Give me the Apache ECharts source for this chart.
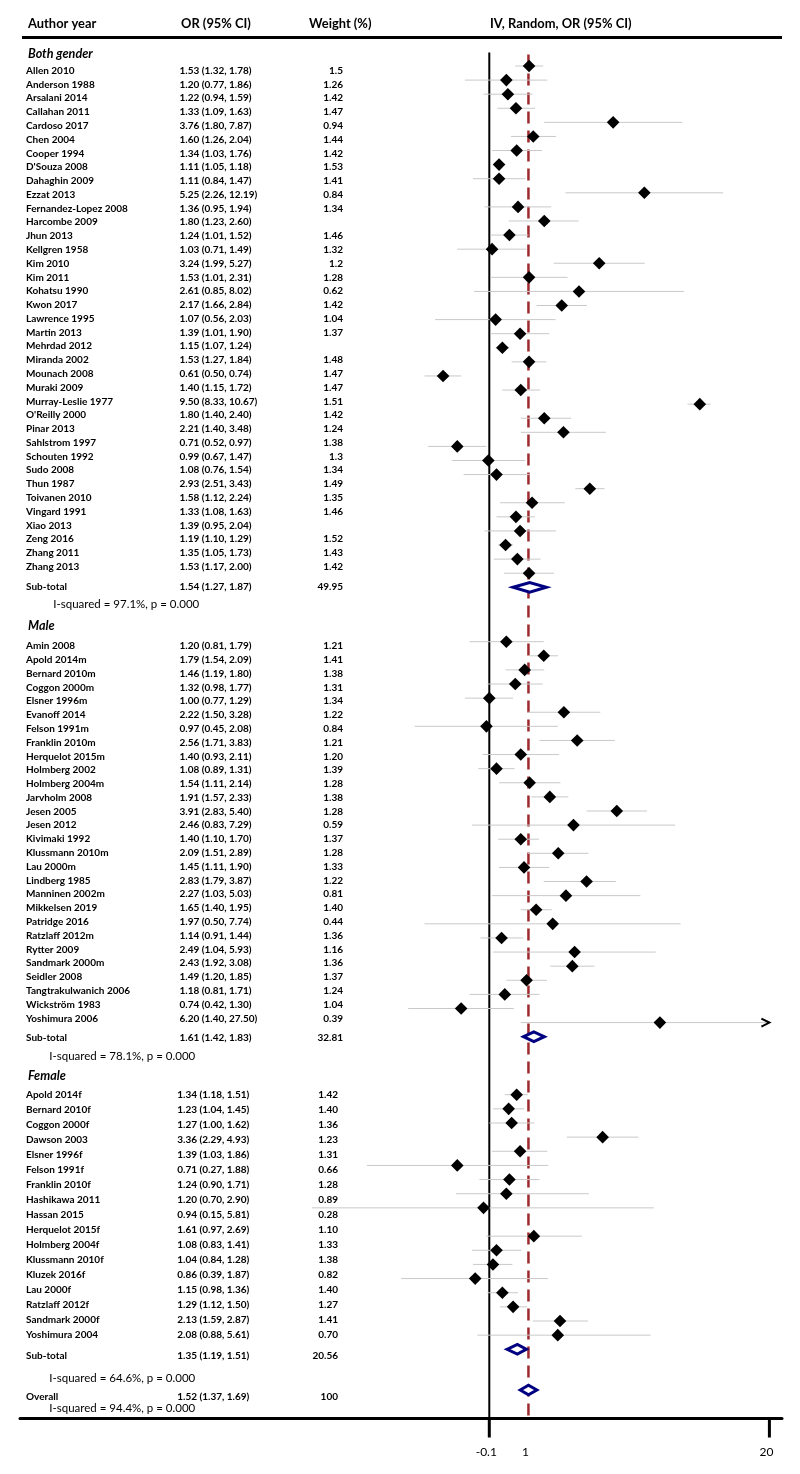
<!DOCTYPE html>
<html><head><meta charset="utf-8">
<script src="https://cdn.jsdelivr.net/npm/echarts@6/dist/echarts.min.js"></script>
<style>html,body{margin:0;padding:0;background:#fff}#c{width:800px;height:1474px}</style>
</head><body><div id="c"></div>
<script>
// ================= DATA =================
const headerLabels = ['Author year', 'OR (95% CI)', 'Weight (%)', 'IV, Random, OR (95% CI)'];
const sectionTitles = ['Both gender', 'Male', 'Female'];

const bothNames = ['Allen 2010','Anderson 1988','Arsalani 2014','Callahan 2011','Cardoso 2017','Chen 2004','Cooper 1994',"D'Souza 2008",'Dahaghin 2009','Ezzat 2013','Fernandez-Lopez 2008','Harcombe 2009','Jhun 2013','Kellgren 1958','Kim 2010','Kim 2011','Kohatsu 1990','Kwon 2017','Lawrence 1995','Martin 2013','Mehrdad 2012','Miranda 2002','Mounach 2008','Muraki 2009','Murray-Leslie 1977',"O'Reilly 2000",'Pinar 2013','Sahlstrom 1997','Schouten 1992','Sudo 2008','Thun 1987','Toivanen 2010','Vingard 1991','Xiao 2013','Zeng 2016','Zhang 2011','Zhang 2013'];
const bothOR = [1.53,1.20,1.22,1.33,3.76,1.60,1.34,1.11,1.11,5.25,1.36,1.80,1.24,1.03,3.24,1.53,2.61,2.17,1.07,1.39,1.15,1.53,0.61,1.40,9.50,1.80,2.21,0.71,0.99,1.08,2.93,1.58,1.33,1.39,1.19,1.35,1.53];
const bothLo = [1.32,0.77,0.94,1.09,1.80,1.26,1.03,1.05,0.84,2.26,0.95,1.23,1.01,0.71,1.99,1.01,0.85,1.66,0.56,1.01,1.07,1.27,0.50,1.15,8.33,1.40,1.40,0.52,0.67,0.76,2.51,1.12,1.08,0.95,1.10,1.05,1.17];
const bothHi = [1.78,1.86,1.59,1.63,7.87,2.04,1.76,1.18,1.47,12.19,1.94,2.60,1.52,1.49,5.27,2.31,8.02,2.84,2.03,1.90,1.24,1.84,0.74,1.72,10.67,2.40,3.48,0.97,1.47,1.54,3.43,2.24,1.63,2.04,1.29,1.73,2.00];
const bothWeight = ['1.5','1.26','1.42','1.47','0.94','1.44','1.42','1.53','1.41','0.84','1.34','','1.46','1.32','1.2','1.28','0.62','1.42','1.04','1.37','','1.48','1.47','1.47','1.51','1.42','1.24','1.38','1.3','1.34','1.49','1.35','1.46','','1.52','1.43','1.42'];

const maleNames = ['Amin 2008','Apold 2014m','Bernard 2010m','Coggon 2000m','Elsner 1996m','Evanoff 2014','Felson 1991m','Franklin 2010m','Herquelot 2015m','Holmberg 2002','Holmberg 2004m','Jarvholm 2008','Jesen 2005','Jesen 2012','Kivimaki 1992','Klussmann 2010m','Lau 2000m','Lindberg 1985','Manninen 2002m','Mikkelsen 2019','Patridge 2016','Ratzlaff 2012m','Rytter 2009','Sandmark 2000m','Seidler 2008','Tangtrakulwanich 2006','Wickström 1983','Yoshimura 2006'];
const maleOR = [1.20,1.79,1.46,1.32,1.00,2.22,0.97,2.56,1.40,1.08,1.54,1.91,3.91,2.46,1.40,2.09,1.45,2.83,2.27,1.65,1.97,1.14,2.49,2.43,1.49,1.18,0.74,6.20];
const maleLo = [0.81,1.54,1.19,0.98,0.77,1.50,0.45,1.71,0.93,0.89,1.11,1.57,2.83,0.83,1.10,1.51,1.11,1.79,1.03,1.40,0.50,0.91,1.04,1.92,1.20,0.81,0.42,1.40];
const maleHi = [1.79,2.09,1.80,1.77,1.29,3.28,2.08,3.83,2.11,1.31,2.14,2.33,5.40,7.29,1.70,2.89,1.90,3.87,5.03,1.95,7.74,1.44,5.93,3.08,1.85,1.71,1.30,27.50];
const maleWeight = ['1.21','1.41','1.38','1.31','1.34','1.22','0.84','1.21','1.20','1.39','1.28','1.38','1.28','0.59','1.37','1.28','1.33','1.22','0.81','1.40','0.44','1.36','1.16','1.36','1.37','1.24','1.04','0.39'];

const femaleNames = ['Apold 2014f','Bernard 2010f','Coggon 2000f','Dawson 2003','Elsner 1996f','Felson 1991f','Franklin 2010f','Hashikawa 2011','Hassan 2015','Herquelot 2015f','Holmberg 2004f','Klussmann 2010f','Kluzek 2016f','Lau 2000f','Ratzlaff 2012f','Sandmark 2000f','Yoshimura 2004'];
const femaleOR = [1.34,1.23,1.27,3.36,1.39,0.71,1.24,1.20,0.94,1.61,1.08,1.04,0.86,1.15,1.29,2.13,2.08];
const femaleLo = [1.18,1.04,1.00,2.29,1.03,0.27,0.90,0.70,0.15,0.97,0.83,0.84,0.39,0.98,1.12,1.59,0.88];
const femaleHi = [1.51,1.45,1.62,4.93,1.86,1.88,1.71,2.90,5.81,2.69,1.41,1.28,1.87,1.36,1.50,2.87,5.61];
const femaleWeight = ['1.42','1.40','1.36','1.23','1.31','0.66','1.28','0.89','0.28','1.10','1.33','1.38','0.82','1.40','1.27','1.41','0.70'];

const subLabel = 'Sub-total';
const subOR = [1.54, 1.61, 1.35];
const subLo = [1.27, 1.42, 1.19];
const subHi = [1.87, 1.83, 1.51];
const subWeight = ['49.95', '32.81', '20.56'];
const subISquared = ['97.1%', '78.1%', '64.6%'];
const subP = ['0.000', '0.000', '0.000'];

const overallLabel = 'Overall';
const overallOR = 1.52, overallLo = 1.37, overallHi = 1.69;
const overallWeight = '100';
const overallISquared = '94.4%', overallP = '0.000';

const nullValue = 1;
const tickValues = [1, 1.52, 20];
const tickLabels = ['-0.1', '1', '20'];
const tickMarks = [true, false, true];

// ================= LAYOUT =================
const FONT = 'Lato, "Liberation Sans", sans-serif';
const f = (w, s, st) => `${st || 'normal'} ${w} ${s}px ${FONT}`;
// font sizes fitted so that sample strings get the widths seen in the reference
const mctx = document.createElement('canvas').getContext('2d');
function fit(samples, weight, style) {
  let acc = 0;
  samples.forEach(([s, target]) => { mctx.font = f(weight, 100, style); acc += 100 * target / mctx.measureText(s).width; });
  return Math.round(acc / samples.length * 10) / 10;
}
const SZ_STUDY = fit([['Allen 2010', 45], ['1.53 (1.32, 1.78)', 70], ['5.25 (2.26, 12.19)', 75], ['Apold 2014f', 63]], 'bold');
const SZ_HEAD = fit([['Author year', 70], ['OR (95% CI)', 68], ['Weight (%)', 63], ['IV, Random, OR (95% CI)', 142]], 'bold');
const SZ_TITLE = fit([['Both gender', 64], ['Male', 27]], 'bold', 'italic');
const SZ_ISQ = fit([['I-squared = 97.1%, p = 0.000', 146]], 'normal');
const SZ_TICK = fit([['20', 14], ['-0.1', 21]], 'normal');

const PX0 = 489.3, K = 93.5, PLOT_L = 20, PLOT_R = 782;
const X_MIN = Math.exp((PLOT_L - PX0) / K), X_MAX = Math.exp((PLOT_R - PX0) / K);
const CLIP_MAX = tickValues[tickValues.length - 1];
const AXIS_Y = 1418.5, LINES_TOP = 52.5;

// blank: index of a study before which the marker column leaves an empty row (-1: none)
const sections = [
  { names: bothNames, or: bothOR, lo: bothLo, hi: bothHi, w: bothWeight,
    mFirst: 66, mLast: 587.3, tFirst: 70.7, tLast: 566.7,
    orX: 179.5, wX: 343, subDy: -0.6, isqDy: 17, isqX: 53.3, titleDy: -16.7, blank: -1 },
  { names: maleNames, or: maleOR, lo: maleLo, hi: maleHi, w: maleWeight,
    mFirst: 641.7, mLast: 1036.7, tFirst: 646, tLast: 1018.3,
    orX: 179.5, wX: 343, subDy: 1, isqDy: 20, isqX: 49.3, titleDy: -20, blank: -1 },
  { names: femaleNames, or: femaleOR, lo: femaleLo, hi: femaleHi, w: femaleWeight,
    mFirst: 1094.7, mLast: 1349.3, tFirst: 1095, tLast: 1334.7,
    orX: 177.3, wX: 338, subDy: 6.4, isqDy: 29.4, isqX: 49.3, titleDy: -19, blank: 9 }
];
const OVERALL = { y: 1390, dy: 6.7, isqDy: 18, isqX: 49.3, orX: 177.3, wX: 338 };
const NAME_X = 26, TITLE_X = 28;

const ciText = (o, l, h) => `${o.toFixed(2)} (${l.toFixed(2)}, ${h.toFixed(2)})`;
const txt = (x, y, s, font, align) => ({ type: 'text', x: x, y: y,
  style: { text: s, font: font, fill: '#000', align: align || 'left', verticalAlign: 'middle' } });

const STUDY_FONT = f('bold', SZ_STUDY);
const ISQ_FONT = f('normal', SZ_ISQ);
const grids = [], xAxes = [], yAxes = [], series = [];

function addGrid(top, height, yType, cats) {
  const gi = grids.length;
  grids.push({ left: PLOT_L, width: PLOT_R - PLOT_L, top: top, height: height });
  xAxes.push({ type: 'log', logBase: Math.E, gridIndex: gi, min: X_MIN, max: X_MAX, show: false,
    axisLabel: { show: false }, axisTick: { show: false }, splitLine: { show: false }, minorTick: { show: false } });
  if (yType === 'value') yAxes.push({ type: 'value', gridIndex: gi, min: 0, max: 1, show: false });
  else yAxes.push({ type: 'category', gridIndex: gi, data: cats, inverse: true, show: false });
  return gi;
}

// --- grid 0: reference lines + bottom axis ---
const g0 = addGrid(LINES_TOP, AXIS_Y - LINES_TOP, 'value');
xAxes[g0].show = true;
xAxes[g0].axisLine = { show: true, onZero: false, lineStyle: { color: '#000', width: 3 } };
series.push({
  type: 'custom', xAxisIndex: g0, yAxisIndex: g0, z: 2, silent: true,
  data: [[nullValue, 0], [overallOR, 1]],
  renderItem: (p, api) => {
    const x = api.coord([api.value(0), 0])[0];
    const cs = p.coordSys;
    if (p.dataIndex === 0)
      return { type: 'line', shape: { x1: x, y1: cs.y, x2: x, y2: cs.y + cs.height }, style: { stroke: '#000', lineWidth: 2 } };
    return { type: 'line', shape: { x1: x, y1: cs.y + 2, x2: x, y2: cs.y + cs.height }, style: { stroke: '#9e2a2f', lineWidth: 2.5, lineDash: [12, 7] } };
  }
});
series.push({
  type: 'custom', xAxisIndex: g0, yAxisIndex: g0, z: 3, silent: true,
  data: tickValues.map((v, i) => [v, i]),
  renderItem: (p, api) => {
    const i = p.dataIndex;
    const x = api.coord([api.value(0), 0])[0];
    const y = p.coordSys.y + p.coordSys.height;
    const ch = [txt(x - 3, y + 33.5, tickLabels[i], f('normal', SZ_TICK), 'center')];
    if (tickMarks[i]) ch.push({ type: 'line', shape: { x1: x, y1: y, x2: x, y2: y + 19 }, style: { stroke: '#000', lineWidth: 3 } });
    return { type: 'group', children: ch };
  }
});

function renderMarker(api, idx, o, l, h) {
  const c = api.coord([o, idx]);
  const pl = api.coord([l, idx]), ph = api.coord([Math.min(h, CLIP_MAX), idx]);
  const y = c[1], d = 6.3;
  const ch = [
    { type: 'line', shape: { x1: pl[0], y1: y, x2: ph[0], y2: y }, style: { stroke: '#c9c9c9', lineWidth: 1 } },
    { type: 'polygon', shape: { points: [[c[0] - d, y], [c[0], y - d], [c[0] + d, y], [c[0], y + d]] }, style: { fill: '#000' } }
  ];
  if (h > CLIP_MAX) ch.push({ type: 'polyline', shape: { points: [[ph[0] - 8, y - 4], [ph[0], y], [ph[0] - 8, y + 4]] }, style: { stroke: '#000', lineWidth: 2, fill: null } });
  return ch;
}
function renderSummary(api, idx, o, l, h) {
  const c = api.coord([o, idx]);
  const pl = api.coord([l, idx]), ph = api.coord([h, idx]);
  const y = c[1], hh = 4.8;
  return { type: 'polygon', shape: { points: [[pl[0] + 1.5, y], [c[0], y - hh], [ph[0] - 1.5, y], [c[0], y + hh]] },
    style: { fill: '#fff', stroke: '#000080', lineWidth: 3, lineJoin: 'miter' } };
}

sections.forEach((s, si) => {
  const n = s.names.length;
  const rows = n + 1 + (s.blank >= 0 ? 1 : 0);
  const rowH = (s.mLast - s.mFirst) / (rows - 1);
  const cats = [];
  s.names.forEach((nm, i) => { if (i === s.blank) cats.push(''); cats.push(nm); });
  cats.push(subLabel);
  const gm = addGrid(s.mFirst - rowH / 2, rowH * rows, 'category', cats);
  const rowOf = i => (s.blank >= 0 && i >= s.blank) ? i + 1 : i;
  const data = s.names.map((nm, i) => [s.or[i], rowOf(i), s.lo[i], s.hi[i], 0]);
  data.push([subOR[si], rows - 1, subLo[si], subHi[si], 1]);
  series.push({
    type: 'custom', xAxisIndex: gm, yAxisIndex: gm, z: 5, silent: true, data: data,
    renderItem: (p, api) => {
      const o = api.value(0), idx = api.value(1), l = api.value(2), h = api.value(3), kind = api.value(4);
      if (kind === 0) return { type: 'group', children: renderMarker(api, idx, o, l, h) };
      const y = api.coord([o, idx])[1] + s.subDy;
      return { type: 'group', children: [
        renderSummary(api, idx, o, l, h),
        txt(NAME_X, y, subLabel, STUDY_FONT),
        txt(s.orX, y, ciText(o, l, h), STUDY_FONT),
        txt(s.wX, y, subWeight[si], STUDY_FONT, 'right'),
        txt(s.isqX, api.coord([o, idx])[1] + s.isqDy, `I-squared = ${subISquared[si]}, p = ${subP[si]}`, ISQ_FONT)
      ] };
    }
  });
  // text grid
  const tRowH = (s.tLast - s.tFirst) / (n - 1);
  const gt = addGrid(s.tFirst - tRowH / 2, tRowH * n, 'category', s.names);
  series.push({
    type: 'custom', xAxisIndex: gt, yAxisIndex: gt, z: 6, silent: true,
    data: s.names.map((nm, i) => [nullValue, i]),
    renderItem: (p, api) => {
      const i = p.dataIndex;
      const y = api.coord([nullValue, i])[1];
      const ch = [
        txt(NAME_X, y, s.names[i], STUDY_FONT),
        txt(s.orX, y, ciText(s.or[i], s.lo[i], s.hi[i]), STUDY_FONT),
        txt(s.wX, y, s.w[i], STUDY_FONT, 'right')
      ];
      if (i === 0) ch.push(txt(TITLE_X, y + s.titleDy, sectionTitles[si], f('bold', SZ_TITLE, 'italic')));
      return { type: 'group', children: ch };
    }
  });
});

// overall
const go = addGrid(OVERALL.y - 7, 14, 'category', [overallLabel]);
series.push({
  type: 'custom', xAxisIndex: go, yAxisIndex: go, z: 5, silent: true,
  data: [[overallOR, 0, overallLo, overallHi]],
  renderItem: (p, api) => {
    const o = api.value(0), l = api.value(2), h = api.value(3);
    const yc = api.coord([o, 0])[1], y = yc + OVERALL.dy;
    return { type: 'group', children: [
      renderSummary(api, 0, o, l, h),
      txt(NAME_X, y, overallLabel, STUDY_FONT),
      txt(OVERALL.orX, y, ciText(o, l, h), STUDY_FONT),
      txt(OVERALL.wX, y, overallWeight, STUDY_FONT, 'right'),
      txt(OVERALL.isqX, yc + OVERALL.isqDy, `I-squared = ${overallISquared}, p = ${overallP}`, ISQ_FONT)
    ] };
  }
});

const headerX = [28, 181, 309, 490];
const option = {
  animation: false,
  backgroundColor: '#fff',
  textStyle: { fontFamily: FONT },
  grid: grids, xAxis: xAxes, yAxis: yAxes, series: series,
  graphic: [
    ...headerLabels.map((t, i) => ({ type: 'text', x: headerX[i], y: 24, silent: true,
      style: { text: t, font: f('bold', SZ_HEAD), fill: '#000', align: 'left', verticalAlign: 'middle' } })),
    { type: 'line', silent: true, shape: { x1: 22, y1: 37.5, x2: 782, y2: 37.5 }, style: { stroke: '#000', lineWidth: 3 } }
  ]
};
const chart = echarts.init(document.getElementById('c'), null, { renderer: 'canvas' });
chart.setOption(option);
</script>
</body></html>
